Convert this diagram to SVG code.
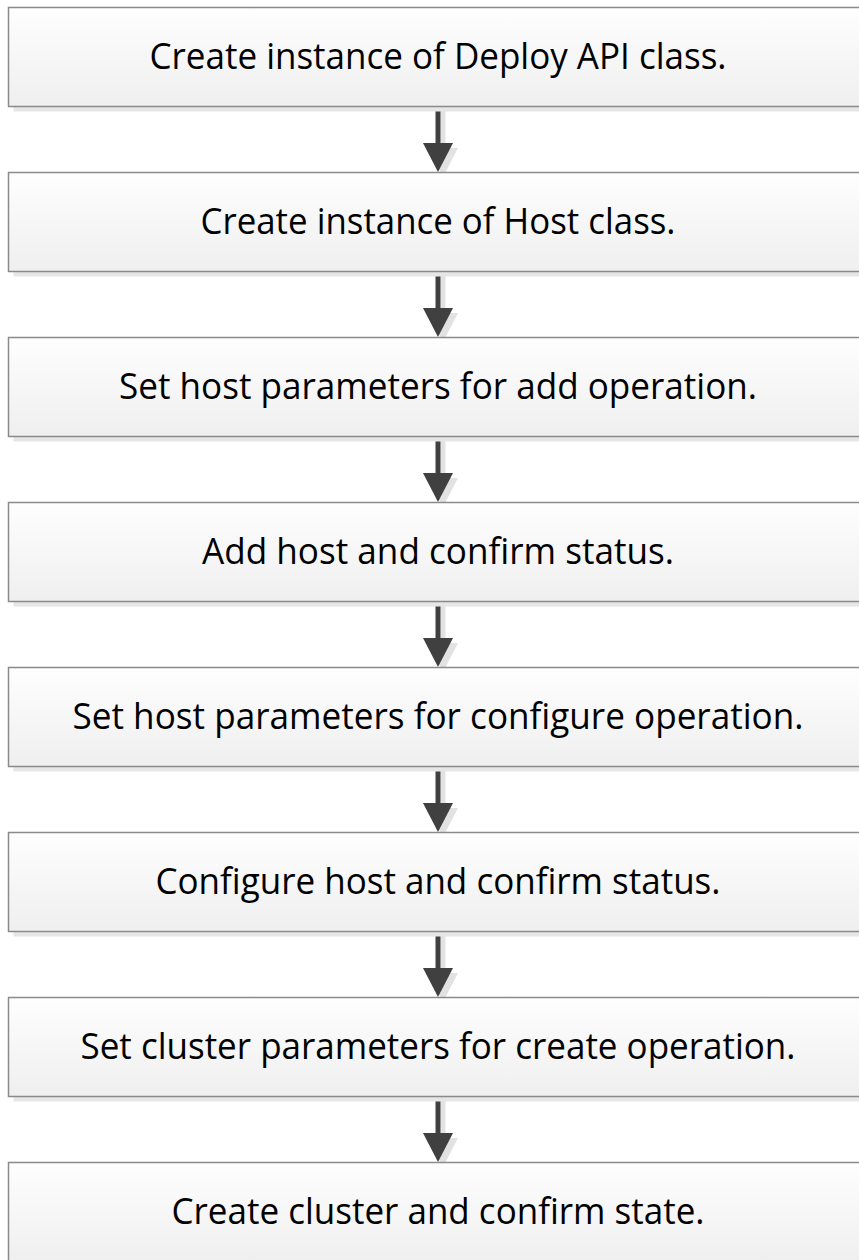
<svg xmlns="http://www.w3.org/2000/svg" width="859" height="1260" viewBox="0 0 859 1260">
  <defs>
    <linearGradient id="boxFill" x1="0" y1="0" x2="0" y2="1">
      <stop offset="0" stop-color="#fefefe"/>
      <stop offset="1" stop-color="#efefef"/>
    </linearGradient>
    <style>
      .shadow { fill: #e6e6e6; }
      .box { fill: url(#boxFill); stroke: #8a8a8a; stroke-width: 1.5; }
      .label { font-family: "Open Sans", "Liberation Sans", sans-serif; font-size: 36.5px; fill: #000; text-anchor: middle; }
      .ashadow-line { stroke: #e2e2e2; stroke-width: 5; fill: none; }
      .ashadow-head { fill: #e2e2e2; }
      .aline { stroke: #404040; stroke-width: 5; fill: none; }
      .ahead { fill: #404040; }
    </style>
    <g id="arrow">
      <line class="ashadow-line" x1="443" y1="111" x2="443" y2="150"/>
      <polygon class="ashadow-head" points="428,148 458,148 443,177"/>
      <line class="aline" x1="438" y1="104.5" x2="438" y2="145"/>
      <polygon class="ahead" points="423,143 453,143 438,172"/>
    </g>
  </defs>

  <g id="connectors">
    <use href="#arrow"/>
    <use href="#arrow" y="165"/>
    <use href="#arrow" y="330"/>
    <use href="#arrow" y="495"/>
    <use href="#arrow" y="660"/>
    <use href="#arrow" y="825"/>
    <use href="#arrow" y="990"/>
  </g>

  <g id="node1">
    <rect class="shadow" x="13.5" y="12.5" width="859" height="99"/>
    <rect class="box" x="8.5" y="7.5" width="859" height="99"/>
    <text class="label" x="438" y="69" textLength="577" lengthAdjust="spacingAndGlyphs">Create instance of Deploy API class.</text>
  </g>
  <g id="node2">
    <rect class="shadow" x="13.5" y="177.5" width="859" height="99"/>
    <rect class="box" x="8.5" y="172.5" width="859" height="99"/>
    <text class="label" x="438" y="234" textLength="475" lengthAdjust="spacingAndGlyphs">Create instance of Host class.</text>
  </g>
  <g id="node3">
    <rect class="shadow" x="13.5" y="342.5" width="859" height="99"/>
    <rect class="box" x="8.5" y="337.5" width="859" height="99"/>
    <text class="label" x="438" y="399" textLength="638" lengthAdjust="spacingAndGlyphs">Set host parameters for add operation.</text>
  </g>
  <g id="node4">
    <rect class="shadow" x="13.5" y="507.5" width="859" height="99"/>
    <rect class="box" x="8.5" y="502.5" width="859" height="99"/>
    <text class="label" x="438" y="564" textLength="472" lengthAdjust="spacingAndGlyphs">Add host and confirm status.</text>
  </g>
  <g id="node5">
    <rect class="shadow" x="13.5" y="672.5" width="859" height="99"/>
    <rect class="box" x="8.5" y="667.5" width="859" height="99"/>
    <text class="label" x="438" y="729" textLength="731" lengthAdjust="spacingAndGlyphs">Set host parameters for configure operation.</text>
  </g>
  <g id="node6">
    <rect class="shadow" x="13.5" y="837.5" width="859" height="99"/>
    <rect class="box" x="8.5" y="832.5" width="859" height="99"/>
    <text class="label" x="438" y="894" textLength="565" lengthAdjust="spacingAndGlyphs">Configure host and confirm status.</text>
  </g>
  <g id="node7">
    <rect class="shadow" x="13.5" y="1002.5" width="859" height="99"/>
    <rect class="box" x="8.5" y="997.5" width="859" height="99"/>
    <text class="label" x="438" y="1059" textLength="715" lengthAdjust="spacingAndGlyphs">Set cluster parameters for create operation.</text>
  </g>
  <g id="node8">
    <rect class="shadow" x="13.5" y="1167.5" width="859" height="99"/>
    <rect class="box" x="8.5" y="1162.5" width="859" height="99"/>
    <text class="label" x="438" y="1224" textLength="533" lengthAdjust="spacingAndGlyphs">Create cluster and confirm state.</text>
  </g>
</svg>
